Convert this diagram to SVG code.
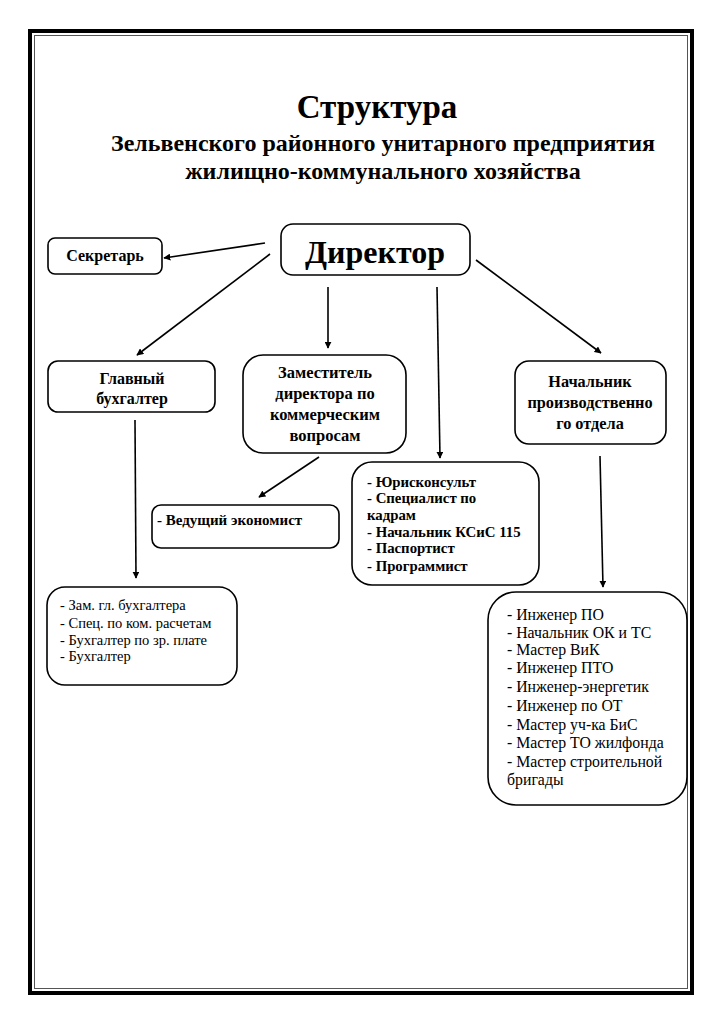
<svg xmlns="http://www.w3.org/2000/svg" width="724" height="1024" viewBox="0 0 724 1024">
<defs>
<marker id="ah" viewBox="0 0 10 10" refX="9" refY="5" markerWidth="7" markerHeight="7" markerUnits="userSpaceOnUse" orient="auto">
<path d="M0,0 L10,5 L0,10 z" fill="#000"/>
</marker>
<style>
.box{fill:#fff;stroke:#000;stroke-width:1.6}
.t{font-family:"Liberation Serif","Times New Roman",serif;fill:#000}
.b{font-weight:bold}
.c{text-anchor:middle}
.con line{stroke:#000;stroke-width:1.6;marker-end:url(#ah)}
</style>
</defs>
<rect width="724" height="1024" fill="#fff"/>
<g id="frame">
<rect x="30" y="31" width="662" height="962" fill="none" stroke="#000" stroke-width="4"/>
<rect x="34.5" y="35.5" width="653" height="953" fill="none" stroke="#555" stroke-width="1"/>
</g>
<g id="title">
<text class="t b c" x="377" y="118" font-size="33">Структура</text>
<text class="t b c" x="383" y="151" font-size="24">Зельвенского районного унитарного предприятия</text>
<text class="t b c" x="383" y="179" font-size="24">жилищно-коммунального хозяйства</text>
</g>
<g class="con" id="connectors">
<line x1="265" y1="243" x2="164" y2="258"/>
<line x1="270" y1="254" x2="137" y2="355"/>
<line x1="328" y1="287" x2="328" y2="348"/>
<line x1="437" y1="287" x2="440" y2="458"/>
<line x1="476" y1="260" x2="601" y2="353"/>
<line x1="319" y1="457" x2="259" y2="497"/>
<line x1="135" y1="420" x2="136" y2="578"/>
<line x1="600" y1="456" x2="603" y2="587"/>
</g>
<g id="director">
<rect class="box" x="281" y="224" width="189" height="51" rx="12"/>
<text class="t b c" x="375" y="263" font-size="32">Директор</text>
</g>
<g id="secretary">
<rect class="box" x="48" y="238" width="114" height="36" rx="7"/>
<text class="t b c" x="105" y="261" font-size="16">Секретарь</text>
</g>
<g id="chief-accountant">
<rect class="box" x="48" y="361" width="167" height="51" rx="10"/>
<text class="t b c" x="132" y="384" font-size="16">Главный</text>
<text class="t b c" x="132" y="404" font-size="16">бухгалтер</text>
</g>
<g id="deputy">
<rect class="box" x="243" y="355" width="163" height="98" rx="20"/>
<text class="t b c" x="325" y="378" font-size="16.5">Заместитель</text>
<text class="t b c" x="325" y="399" font-size="16.5">директора по</text>
<text class="t b c" x="325" y="420" font-size="16.5">коммерческим</text>
<text class="t b c" x="325" y="441" font-size="16.5">вопросам</text>
</g>
<g id="production-head">
<rect class="box" x="515" y="361" width="151" height="83" rx="14"/>
<text class="t b c" x="590" y="387" font-size="16.3">Начальник</text>
<text class="t b c" x="590" y="408" font-size="16.3">производственно</text>
<text class="t b c" x="590" y="429" font-size="16.3">го отдела</text>
</g>
<g id="economist">
<rect class="box" x="152" y="505" width="187" height="43" rx="9"/>
<text class="t b" x="157" y="525" font-size="15">- Ведущий экономист</text>
</g>
<g id="staff">
<rect class="box" x="352" y="462" width="187" height="123" rx="20"/>
<text class="t b" x="367" y="487" font-size="14.8">- Юрисконсульт</text>
<text class="t b" x="367" y="503" font-size="14.8">- Специалист по</text>
<text class="t b" x="367" y="520" font-size="14.8">кадрам</text>
<text class="t b" x="367" y="537" font-size="14.8">- Начальник КСиС 115</text>
<text class="t b" x="367" y="553" font-size="14.8">- Паспортист</text>
<text class="t b" x="367" y="571" font-size="14.8">- Программист</text>
</g>
<g id="accounting-staff">
<rect class="box" x="47" y="587" width="190" height="98" rx="18"/>
<text class="t" x="60" y="610" font-size="14.5">- Зам. гл. бухгалтера</text>
<text class="t" x="60" y="628" font-size="14.5">- Спец. по ком. расчетам</text>
<text class="t" x="60" y="645" font-size="14.5">- Бухгалтер по зр. плате</text>
<text class="t" x="60" y="661" font-size="14.5">- Бухгалтер</text>
</g>
<g id="production-staff">
<rect class="box" x="488" y="592" width="199" height="213" rx="28"/>
<text class="t" x="507" y="620" font-size="15.8">- Инженер ПО</text>
<text class="t" x="507" y="638" font-size="15.8">- Начальник ОК и ТС</text>
<text class="t" x="507" y="655" font-size="15.8">- Мастер ВиК</text>
<text class="t" x="507" y="673" font-size="15.8">- Инженер ПТО</text>
<text class="t" x="507" y="692" font-size="15.8">- Инженер-энергетик</text>
<text class="t" x="507" y="711" font-size="15.8">- Инженер по ОТ</text>
<text class="t" x="507" y="730" font-size="15.8">- Мастер уч-ка БиС</text>
<text class="t" x="507" y="748" font-size="15.8">- Мастер ТО жилфонда</text>
<text class="t" x="507" y="767" font-size="15.8">- Мастер строительной</text>
<text class="t" x="507" y="785" font-size="15.8">бригады</text>
</g>
</svg>
